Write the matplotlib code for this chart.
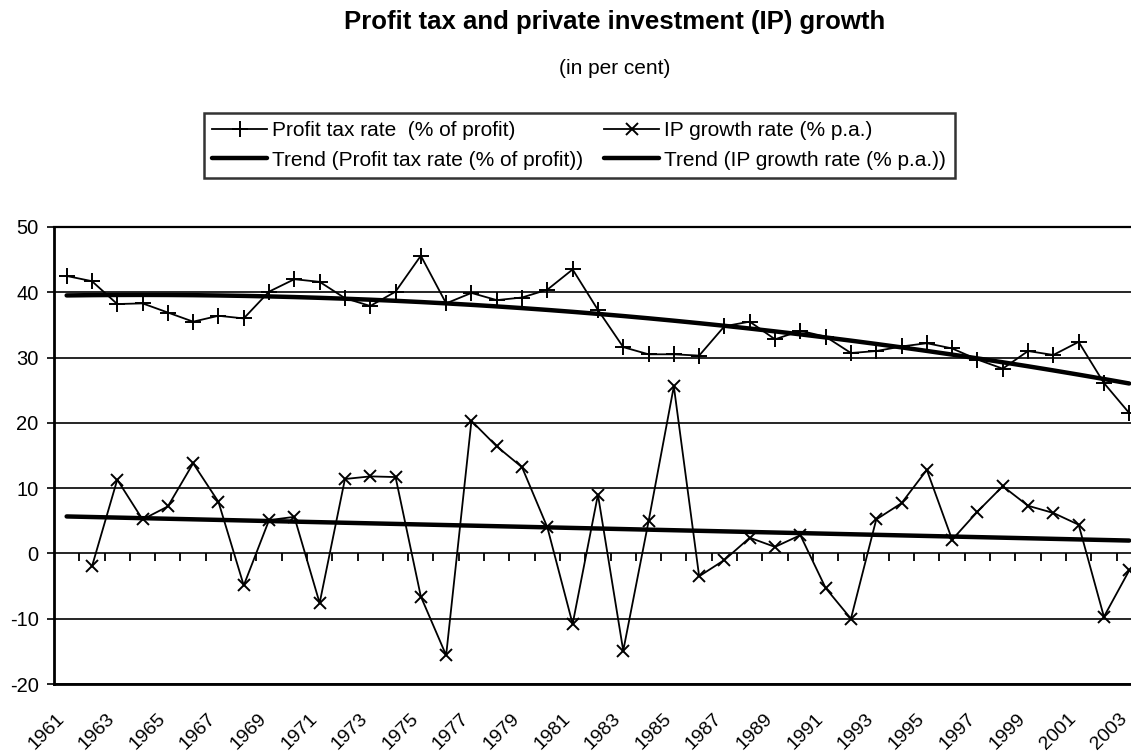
import numpy as np
import matplotlib
matplotlib.use("Agg")
import matplotlib.pyplot as plt
from matplotlib.transforms import ScaledTranslation

plt.rcParams["font.family"] = ["Liberation Sans", "DejaVu Sans"]
plt.rcParams["axes.unicode_minus"] = False

years = list(range(1961, 2004))

# profit tax, % of profit
profit_tax = [42.5, 41.7, 38.2, 38.3, 36.9, 35.5, 36.4, 36.0, 40.1, 42.0,
              41.6, 39.1, 37.9, 40.1, 45.6, 38.3, 39.9, 38.8, 39.2, 40.4,
              43.5, 37.3, 31.6, 30.5, 30.5, 30.3, 34.8, 35.5, 32.8, 34.1,
              33.2, 30.7, 31.0, 31.7, 32.2, 31.4, 29.7, 28.3, 31.0, 30.4,
              32.4, 26.1, 21.5]

# private investment growth, % p.a. (no value for 1961)
ip_growth = [np.nan, -2.0, 11.3, 5.2, 7.2, 13.8, 7.9, -4.9, 5.1, 5.6,
             -7.6, 11.4, 11.8, 11.7, -6.6, -15.6, 20.3, 16.4, 13.2, 4.0,
             -10.8, 9.0, -14.9, 4.9, 25.6, -3.5, -1.0, 2.4, 1.0, 2.8,
             -5.3, -10.0, 5.2, 7.7, 12.8, 2.1, 6.4, 10.3, 7.3, 6.2,
             4.4, -9.7, -2.6]

x = np.arange(len(years))
pt = np.array(profit_tax)
ip = np.array(ip_growth)

# trends: 2nd order polynomial for the tax rate, linear for IP growth
pt_trend = np.polyval(np.polyfit(x, pt, 2), x)
ok = ~np.isnan(ip)
ip_trend = np.polyval(np.polyfit(x[ok], ip[ok], 1), x)

fig = plt.figure(figsize=(11.31, 7.51), dpi=100)
ax = fig.add_axes([54/1131, 1-684/751, 1-54/1131, (684-227)/751])

l1, = ax.plot(x, pt, color="black", lw=1.3, marker="+", ms=11, mew=1.4)
l2, = ax.plot(x, ip, color="black", lw=1.3, marker="x", ms=9, mew=1.4)
l3, = ax.plot(x, pt_trend, color="black", lw=3.2, solid_capstyle="round")
l4, = ax.plot(x, ip_trend, color="black", lw=3.2, solid_capstyle="round")

ax.set_xlim(-0.5, 42.07)
ax.set_ylim(-20, 50)
ax.set_yticks(range(-20, 51, 10))
ax.tick_params(axis="y", direction="out", length=5, width=1.2, labelsize=14.5, pad=6)
ax.yaxis.grid(True, color="black", lw=1.2)
ax.set_axisbelow(True)
for s in ["right", "top"]:
    ax.spines[s].set_visible(False)
ax.spines["left"].set_linewidth(2)
ax.spines["bottom"].set_linewidth(2)
ax.axhline(50, color="black", lw=1.6, clip_on=False, zorder=0)

# category boundary ticks on the zero line
bounds = np.arange(len(years) + 1) - 0.5
ax.plot(bounds, np.zeros_like(bounds), ls="none", marker=3, ms=6, mew=1.3,
        color="black", clip_on=True)

ax.set_xticks(x[::2])
ax.set_xticklabels([str(y) for y in years[::2]], rotation=45, ha="right",
                   va="center", rotation_mode="anchor", fontsize=14)
ax.tick_params(axis="x", length=0, pad=23)
shift = ScaledTranslation(-5/100, 0, fig.dpi_scale_trans)
for lab in ax.get_xticklabels():
    lab.set_transform(lab.get_transform() + shift)

fig.text(615/1131, 1-22/751, "Profit tax and private investment (IP) growth",
         ha="center", va="center", fontsize=18.5, fontweight="bold")
fig.text(615/1131, 1-68/751, "(in per cent)", ha="center", va="center", fontsize=15)

# legend fills column by column: order entries so rows read across
leg = fig.legend([l1, l3, l2, l4],
                 ["Profit tax rate  (% of profit)", "Trend (Profit tax rate (% of profit))",
                  "IP growth rate (% p.a.)", "Trend (IP growth rate (% p.a.))"],
                 ncol=2, loc="upper left", bbox_to_anchor=(204/1131, 1-113/751),
                 fontsize=15, frameon=True, fancybox=False, edgecolor="black",
                 handlelength=2.64, handletextpad=0.24, columnspacing=1.0,
                 labelspacing=0.5, borderpad=0.4, borderaxespad=0)
leg.get_frame().set_linewidth(1.8)

fig.savefig("out.png", dpi=100)
